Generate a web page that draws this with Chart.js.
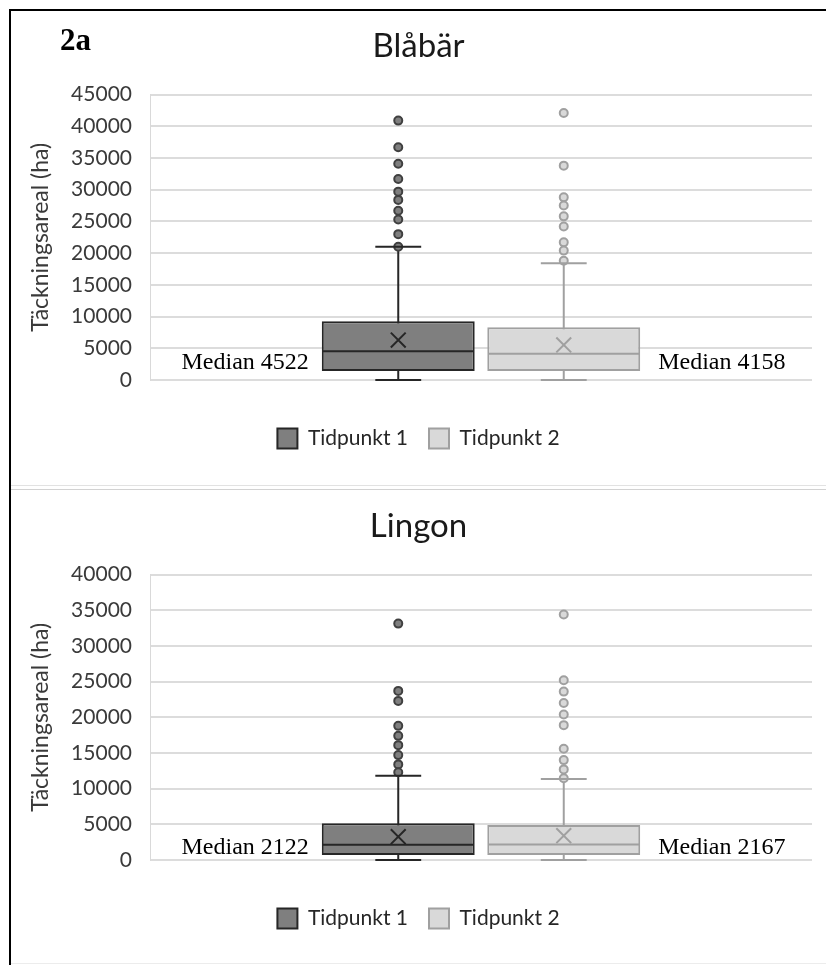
<!DOCTYPE html>
<html>
<head>
<meta charset="utf-8">
<script src="https://cdn.jsdelivr.net/npm/chart.js@4.4.1/dist/chart.umd.min.js"></script>
<style>
  body { margin: 0; background: #fff; }
  #page { position: relative; width: 826px; height: 965px; overflow: hidden; background: #fff; }
  canvas { position: absolute; left: 11px; }
  #blabar { top: 11px; }
  #lingon { top: 491px; }
  .frame { position: absolute; background: #000; }
  .divider { position: absolute; left: 11px; width: 815px; height: 1px; }
  #fig { position: absolute; left: 60px; top: 24px; z-index: 2;
         font: bold 31px/31px 'Liberation Serif', 'Times New Roman', serif; color: #000; }
</style>
</head>
<body>
<div id="page">
  <canvas id="blabar" width="815" height="473"></canvas>
  <canvas id="lingon" width="815" height="473"></canvas>
  <div class="frame" style="left:9px;top:9px;width:2px;height:956px"></div>
  <div class="frame" style="left:9px;top:9px;width:817px;height:2px"></div>
  <div class="divider" style="top:485px;background:#e2e2e2"></div>
  <div class="divider" style="top:489px;background:#d2d2d2"></div>
  <div class="divider" style="top:963px;background:#ececec"></div>
  <div id="fig">2a</div>
</div>
<script>
// Serier
const categories = ['Tidpunkt 1', 'Tidpunkt 2'];
const axisTitle = 'Täckningsareal (ha)';
const axisStep = 5000;

// Blåbär
const blabarMax = 45000;
const blabarQ1 = [1420, 1420];
const blabarQ3 = [9270, 8320];
const blabarMedian = [4522, 4158];
const blabarMean = [6300, 5530];
const blabarLow = [0, 0];
const blabarHigh = [21000, 18400];
const blabarOutliers1 = [40900, 36700, 34100, 31700, 29700, 28400, 26700, 25300, 23000, 21000];
const blabarOutliers2 = [42100, 33800, 28800, 27500, 25800, 24200, 21700, 20400, 18800];

// Lingon
const lingonMax = 40000;
const lingonQ1 = [700, 700];
const lingonQ3 = [5140, 4900];
const lingonMedian = [2122, 2167];
const lingonMean = [3270, 3400];
const lingonLow = [0, 0];
const lingonHigh = [11800, 11350];
const lingonOutliers1 = [33130, 23700, 22300, 18800, 17400, 16100, 14700, 13400, 12300];
const lingonOutliers2 = [34400, 25200, 23600, 22000, 20400, 18900, 15600, 14000, 12700, 11450];

const fills = ['#7f7f7f', '#d9d9d9'];
const lines = ['#262626', '#a0a0a0'];
const textColor = '#3a3a3a';

Chart.defaults.font.family = "Lato, 'Open Sans', sans-serif";

// tomma platser på sidorna så att lådorna hamnar mitt i diagrammet
const xLabels = ['', ...categories, ''];

// Plugin för morrhår, median och etiketter
function boxPlugin(stats) {
  return {
    id: 'boxWhiskers',
    beforeDatasetsDraw(chart) {
      const { ctx } = chart;
      const y = chart.scales.y;
      categories.forEach((cat, i) => {
        const bar = chart.getDatasetMeta(i).data[xLabels.indexOf(cat)];
        ctx.save();
        ctx.strokeStyle = lines[i];
        ctx.lineWidth = 2;
        ctx.beginPath();
        ctx.moveTo(bar.x, y.getPixelForValue(stats.low[i]));
        ctx.lineTo(bar.x, y.getPixelForValue(stats.high[i]));
        ctx.stroke();
        ctx.restore();
      });
    },
    afterDatasetsDraw(chart) {
      const { ctx } = chart;
      const y = chart.scales.y;
      categories.forEach((cat, i) => {
        const bar = chart.getDatasetMeta(i).data[xLabels.indexOf(cat)];
        const half = bar.width / 2;
        const cap = bar.width * 0.15;
        ctx.save();
        ctx.strokeStyle = lines[i];
        ctx.lineWidth = 2;
        ctx.beginPath();
        [stats.low[i], stats.high[i]].forEach((v) => {
          const py = y.getPixelForValue(v);
          ctx.moveTo(bar.x - cap, py);
          ctx.lineTo(bar.x + cap, py);
        });
        const pm = y.getPixelForValue(stats.median[i]);
        ctx.moveTo(bar.x - half + 1, pm);
        ctx.lineTo(bar.x + half - 1, pm);
        ctx.stroke();

        // Median-etikett
        ctx.fillStyle = '#000';
        ctx.font = "24px 'Liberation Serif', 'Times New Roman', serif";
        ctx.textBaseline = 'alphabetic';
        const ty = y.getPixelForValue(stats.q1[i]) - 1.5;
        const text = 'Median ' + stats.median[i];
        if (i === 0) {
          ctx.textAlign = 'right';
          ctx.fillText(text, bar.x - half - 13, ty);
        } else {
          ctx.textAlign = 'left';
          ctx.fillText(text, bar.x + half + 18, ty);
        }
        ctx.restore();
      });
    },
  };
}

function drawBoxChart(id, title, axisMax, stats) {
  const boxes = categories.map((cat, i) => ({
    type: 'bar',
    label: cat,
    data: xLabels.map((l) => (l === cat ? [stats.q1[i], stats.q3[i]] : null)),
    backgroundColor: fills[i],
    borderColor: lines[i],
    borderWidth: 2,
    borderSkipped: false,
    skipNull: true,
    barPercentage: 0.924,
    categoryPercentage: 1,
    order: 2,
  }));

  const means = categories.map((cat, i) => ({
    type: 'line',
    label: 'mean ' + cat,
    data: [{ x: cat, y: stats.mean[i] }],
    showLine: false,
    pointStyle: 'crossRot',
    pointRadius: 10.5,
    pointBorderWidth: 2,
    borderColor: lines[i],
    backgroundColor: lines[i],
    order: 1,
  }));

  const outliers = categories.map((cat, i) => ({
    type: 'line',
    label: 'outliers ' + cat,
    data: stats.outliers[i].map((v) => ({ x: cat, y: v })),
    showLine: false,
    pointStyle: 'circle',
    pointRadius: 4,
    pointBorderWidth: 2,
    borderColor: i === 0 ? '#404040' : lines[i],
    backgroundColor: fills[i],
    order: 0,
  }));

  return new Chart(document.getElementById(id), {
    type: 'bar',
    data: {
      labels: xLabels,
      datasets: [...boxes, ...means, ...outliers],
    },
    options: {
      responsive: false,
      animation: false,
      events: [],
      layout: {
        padding: { top: 0, right: 14, bottom: 25, left: 14 },
      },
      plugins: {
        title: {
          display: true,
          text: title,
          color: '#1a1a1a',
          font: { size: 33, weight: 'normal' },
          padding: { top: 16, bottom: 28 },
        },
        legend: {
          position: 'bottom',
          labels: {
            boxWidth: 20,
            boxHeight: 20,
            padding: 21,
            color: '#262626',
            font: { size: 21 },
            filter: (item) => item.datasetIndex < categories.length,
          },
        },
        tooltip: { enabled: false },
      },
      scales: {
        x: {
          grid: { display: false },
          ticks: { display: false },
          border: { display: false },
          afterFit(scale) {
            scale.height = 27;
          },
        },
        y: {
          min: 0,
          max: axisMax,
          ticks: {
            stepSize: axisStep,
            padding: 18,
            color: textColor,
            font: { size: 21 },
            callback: (v) => String(v),
          },
          grid: { color: '#dcdcdc', lineWidth: 2, drawTicks: false },
          border: { display: true, color: '#d9d9d9', width: 1 },
          title: {
            display: true,
            text: axisTitle,
            color: textColor,
            font: { size: 23 },
            padding: { top: 2, bottom: 0 },
          },
          afterFit(scale) {
            scale.width = 125;
          },
        },
      },
    },
    plugins: [boxPlugin(stats)],
  });
}

drawBoxChart('blabar', 'Blåbär', blabarMax, {
  q1: blabarQ1, q3: blabarQ3, median: blabarMedian, mean: blabarMean,
  low: blabarLow, high: blabarHigh, outliers: [blabarOutliers1, blabarOutliers2],
});

drawBoxChart('lingon', 'Lingon', lingonMax, {
  q1: lingonQ1, q3: lingonQ3, median: lingonMedian, mean: lingonMean,
  low: lingonLow, high: lingonHigh, outliers: [lingonOutliers1, lingonOutliers2],
});
</script>
</body>
</html>
